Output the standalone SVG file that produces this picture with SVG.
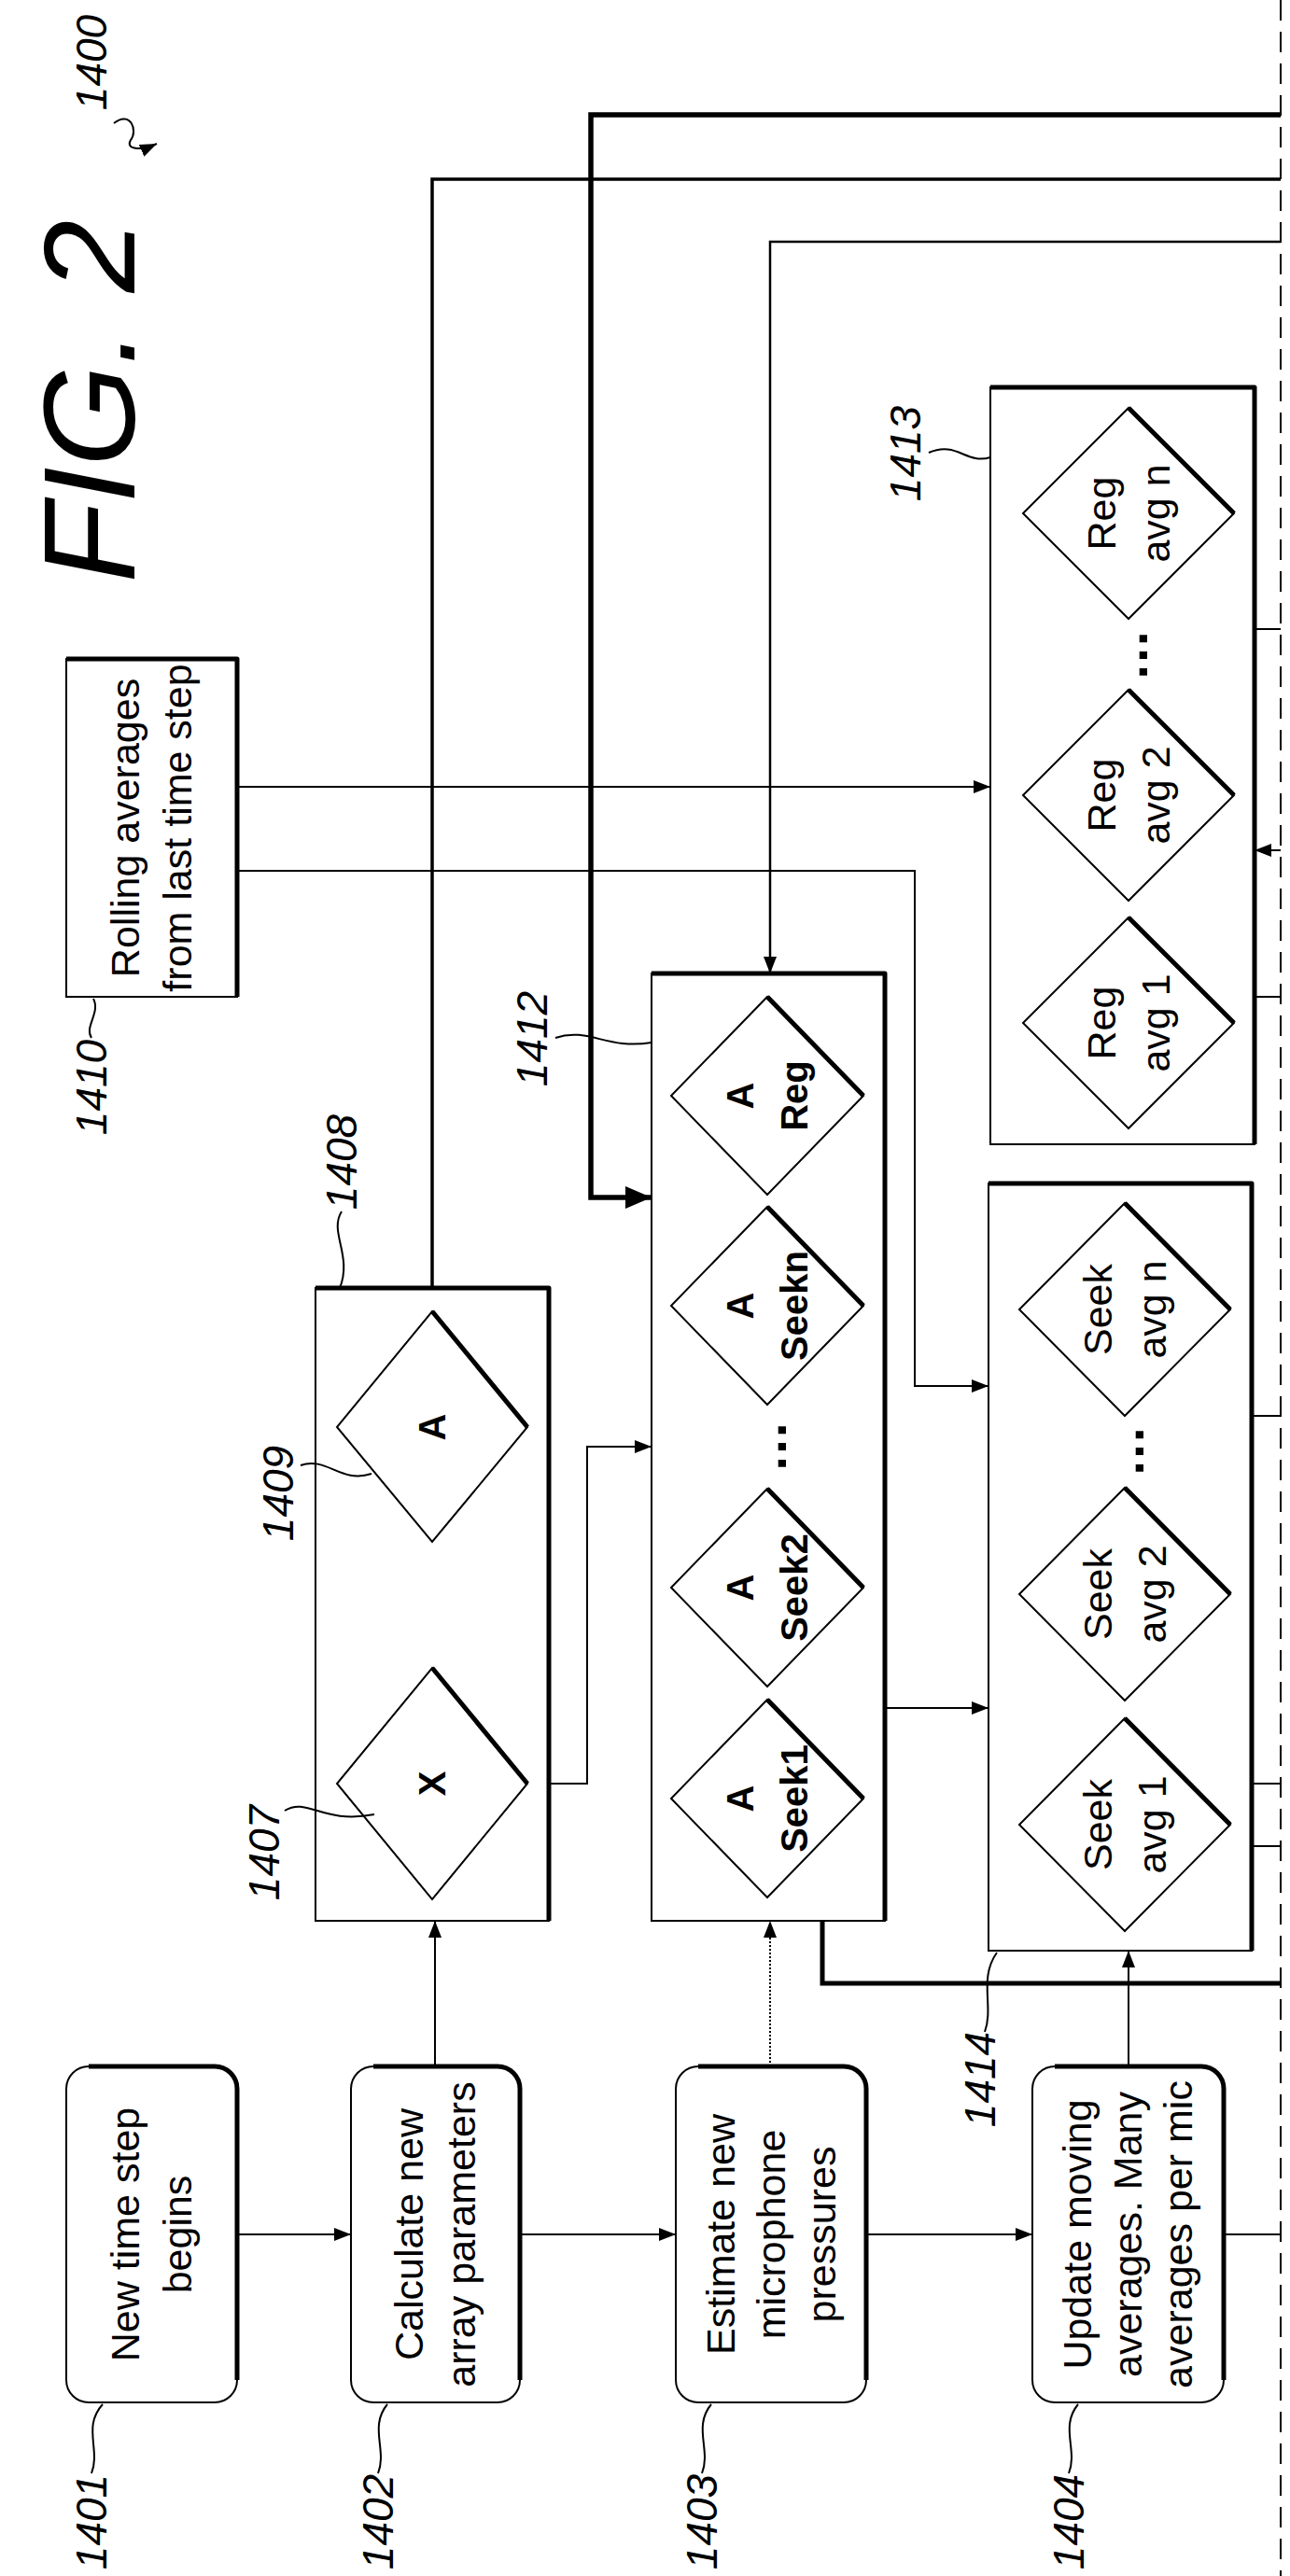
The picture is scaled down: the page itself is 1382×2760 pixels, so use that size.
<svg xmlns="http://www.w3.org/2000/svg" width="1382" height="2760" viewBox="0 0 1382 2760">
<style>
.b{fill:#fff;stroke:#000;stroke-width:2}
.sh{fill:none;stroke:#000;stroke-width:5;stroke-linejoin:round}
.ln{fill:none;stroke:#000;stroke-width:2}
.t{font-family:"Liberation Sans",Arial,sans-serif;font-size:43px;text-anchor:middle;dominant-baseline:central}
.d{font-family:"Liberation Sans",Arial,sans-serif;font-size:40px;text-anchor:middle;dominant-baseline:central;font-weight:bold}
.dots{font-family:"Liberation Sans",Arial,sans-serif;font-size:56px;text-anchor:middle;dominant-baseline:central;font-weight:bold}
.l{font-family:"Liberation Sans",Arial,sans-serif;font-size:46px;font-style:italic;text-anchor:middle;dominant-baseline:central}
</style>
<defs>
<marker id="ar" markerUnits="userSpaceOnUse" markerWidth="20" markerHeight="14" refX="18" refY="7" orient="auto"><path d="M0,0 L18,7 L0,14 Z"/></marker>
<marker id="arb" markerUnits="userSpaceOnUse" markerWidth="30" markerHeight="24" refX="28" refY="12" orient="auto"><path d="M0,0 L28,12 L0,24 Z"/></marker>
</defs>

<text class="l" style="font-size:140px" transform="translate(95,430) rotate(-90)">FIG. 2</text>
<g id="label1400"><text class="l" transform="translate(98,67) rotate(-90)">1400</text>
<path class="ln" d="M122,132 C140,118 148,140 140,150 C134,160 150,162 168,154" marker-end="url(#ar)"/></g>

<g id="connectors">
<line x1="1372" y1="0" x2="1372" y2="2760" stroke="#000" stroke-width="2" stroke-dasharray="22,12"/>
<line class="ln" x1="254" y1="2394" x2="376" y2="2394" marker-end="url(#ar)"/>
<line class="ln" x1="557" y1="2394" x2="724" y2="2394" marker-end="url(#ar)"/>
<line class="ln" x1="928" y1="2394" x2="1106" y2="2394" marker-end="url(#ar)"/>
<line class="ln" x1="1311" y1="2394" x2="1372" y2="2394"/>
<line class="ln" x1="466" y1="2214" x2="466" y2="2058" marker-end="url(#ar)"/>
<line class="ln" x1="825" y1="2214" x2="825" y2="2058" stroke-dasharray="2,2" marker-end="url(#ar)"/>
<line class="ln" x1="1209" y1="2214" x2="1209" y2="2090" marker-end="url(#ar)"/>
<polyline class="ln" style="stroke-width:5" points="881,2058 881,2125 1372,2125"/>
<polyline class="ln" style="stroke-width:3.5" points="463,1405 463,192 1372,192"/>
<polyline class="ln" style="stroke-width:5.5" points="1372,123 633,123 633,1283 698,1283" marker-end="url(#arb)"/>
<polyline class="ln" style="stroke-width:2.5" points="1372,259 825,259 825,1043" marker-end="url(#ar)"/>
<polyline class="ln" points="565,1911 629,1911 629,1550 698,1550" marker-end="url(#ar)"/>
<line class="ln" x1="948" y1="1830" x2="1059" y2="1830" marker-end="url(#ar)"/>
<polyline class="ln" points="254,933 980,933 980,1485 1059,1485" marker-end="url(#ar)"/>
<line class="ln" x1="254" y1="843" x2="1061" y2="843" marker-end="url(#ar)"/>
<line class="ln" x1="1344" y1="674" x2="1372" y2="674"/>
<line class="ln" x1="1344" y1="1068" x2="1372" y2="1068"/>
<line class="ln" x1="1372" y1="911" x2="1344" y2="911" marker-end="url(#ar)"/>
<line class="ln" x1="1341" y1="1517" x2="1372" y2="1517"/>
<line class="ln" x1="1341" y1="1911" x2="1372" y2="1911"/>
<line class="ln" x1="1341" y1="1978" x2="1372" y2="1978"/>
</g>

<g id="n1401"><rect class="b" x="71" y="2214" width="183" height="360" rx="24"/>
<path class="sh" d="M95,2214 H230 A24,24 0 0 1 254,2238 V2550"/>
<text class="t" transform="translate(162,2394) rotate(-90)"><tspan x="0" y="-28">New time step</tspan><tspan x="0" y="28">begins</tspan></text>
<text class="l" transform="translate(98,2702) rotate(-90)">1401</text><path class="ln" d="M98,2650 C108,2625 88,2600 110,2576"/></g>

<g id="n1402"><rect class="b" x="376" y="2214" width="181" height="360" rx="24"/>
<path class="sh" d="M400,2214 H533 A24,24 0 0 1 557,2238 V2550"/>
<text class="t" transform="translate(466,2394) rotate(-90)"><tspan x="0" y="-28">Calculate new</tspan><tspan x="0" y="28">array parameters</tspan></text>
<text class="l" transform="translate(405,2702) rotate(-90)">1402</text><path class="ln" d="M405,2650 C415,2625 395,2600 415,2576"/></g>

<g id="n1403"><rect class="b" x="724" y="2214" width="204" height="360" rx="24"/>
<path class="sh" d="M748,2214 H904 A24,24 0 0 1 928,2238 V2550"/>
<text class="t" transform="translate(826,2394) rotate(-90)"><tspan x="0" y="-54">Estimate new</tspan><tspan x="0" y="0">microphone</tspan><tspan x="0" y="54">pressures</tspan></text>
<text class="l" transform="translate(752,2702) rotate(-90)">1403</text><path class="ln" d="M752,2650 C762,2625 742,2600 762,2576"/></g>

<g id="n1404"><rect class="b" x="1106" y="2214" width="205" height="360" rx="24"/>
<path class="sh" d="M1130,2214 H1287 A24,24 0 0 1 1311,2238 V2550"/>
<text class="t" transform="translate(1208,2394) rotate(-90)"><tspan x="0" y="-54">Update moving</tspan><tspan x="0" y="0">averages. Many</tspan><tspan x="0" y="54">averages per mic</tspan></text>
<text class="l" transform="translate(1145,2702) rotate(-90)">1404</text><path class="ln" d="M1145,2650 C1155,2625 1135,2600 1155,2576"/></g>

<g id="n1410"><rect class="b" x="71" y="706" width="183" height="362"/>
<path class="sh" d="M71,706 H254 V1068"/>
<text class="t" transform="translate(162,887) rotate(-90)"><tspan x="0" y="-28">Rolling averages</tspan><tspan x="0" y="28">from last time step</tspan></text>
<text class="l" transform="translate(98,1165) rotate(-90)">1410</text><path class="ln" d="M98,1112 C90,1100 108,1085 100,1070"/></g>

<g id="n1408"><rect class="b" x="338" y="1380" width="250" height="678"/>
<path class="sh" d="M338,1380 H588 V2058"/>
<path class="b" d="M463,1405 L565,1529 L463,1652 L361,1529 Z"/><path class="sh" d="M463,1405 L565,1529"/>
<text class="d" transform="translate(463,1529) rotate(-90)">A</text>
<path class="b" d="M463,1787 L565,1911 L463,2035 L361,1911 Z"/><path class="sh" d="M463,1787 L565,1911"/>
<text class="d" transform="translate(463,1911) rotate(-90)">X</text>
<text class="l" transform="translate(366,1245) rotate(-90)">1408</text><path class="ln" d="M366,1298 C352,1320 378,1345 364,1380"/>
<text class="l" transform="translate(298,1600) rotate(-90)">1409</text><path class="ln" d="M322,1570 C350,1560 365,1590 398,1579"/>
<text class="l" transform="translate(283,1985) rotate(-90)">1407</text><path class="ln" d="M305,1940 C330,1925 345,1955 401,1944"/></g>

<g id="n1412"><rect class="b" x="698" y="1043" width="250" height="1015"/>
<path class="sh" d="M698,1043 H948 V2058"/>
<path class="b" d="M822,1068 L925,1174 L822,1280 L719,1174 Z"/><path class="sh" d="M822,1068 L925,1174"/>
<text class="d" transform="translate(822,1174) rotate(-90)"><tspan x="0" y="-29">A</tspan><tspan x="0" y="29">Reg</tspan></text>
<path class="b" d="M822,1293 L925,1399 L822,1505 L719,1399 Z"/><path class="sh" d="M822,1293 L925,1399"/>
<text class="d" transform="translate(822,1399) rotate(-90)"><tspan x="0" y="-29">A</tspan><tspan x="0" y="29">Seekn</tspan></text>
<text class="dots" transform="translate(822,1550) rotate(-90)">…</text>
<path class="b" d="M822,1595 L925,1701 L822,1807 L719,1701 Z"/><path class="sh" d="M822,1595 L925,1701"/>
<text class="d" transform="translate(822,1701) rotate(-90)"><tspan x="0" y="-29">A</tspan><tspan x="0" y="29">Seek2</tspan></text>
<path class="b" d="M822,1821 L925,1927 L822,2033 L719,1927 Z"/><path class="sh" d="M822,1821 L925,1927"/>
<text class="d" transform="translate(822,1927) rotate(-90)"><tspan x="0" y="-29">A</tspan><tspan x="0" y="29">Seek1</tspan></text>
<text class="l" transform="translate(570,1113) rotate(-90)">1412</text><path class="ln" d="M595,1112 C630,1100 650,1125 698,1117"/></g>

<g id="n1413"><rect class="b" x="1061" y="415" width="283" height="811"/>
<path class="sh" d="M1061,415 H1344 V1226"/>
<path class="b" d="M1209,437 L1322,550 L1209,663 L1096,550 Z"/><path class="sh" d="M1209,437 L1322,550"/>
<text class="t" transform="translate(1209,550) rotate(-90)"><tspan x="0" y="-29">Reg</tspan><tspan x="0" y="29">avg n</tspan></text>
<text class="dots" transform="translate(1209,702) rotate(-90)">…</text>
<path class="b" d="M1209,739 L1322,852 L1209,965 L1096,852 Z"/><path class="sh" d="M1209,739 L1322,852"/>
<text class="t" transform="translate(1209,852) rotate(-90)"><tspan x="0" y="-29">Reg</tspan><tspan x="0" y="29">avg 2</tspan></text>
<path class="b" d="M1209,983 L1322,1096 L1209,1209 L1096,1096 Z"/><path class="sh" d="M1209,983 L1322,1096"/>
<text class="t" transform="translate(1209,1096) rotate(-90)"><tspan x="0" y="-29">Reg</tspan><tspan x="0" y="29">avg 1</tspan></text>
<text class="l" transform="translate(970,486) rotate(-90)">1413</text><path class="ln" d="M995,485 C1025,472 1035,498 1061,490"/></g>

<g id="n1414"><rect class="b" x="1059" y="1268" width="282" height="822"/>
<path class="sh" d="M1059,1268 H1341 V2090"/>
<path class="b" d="M1205,1289 L1318,1403 L1205,1517 L1092,1403 Z"/><path class="sh" d="M1205,1289 L1318,1403"/>
<text class="t" transform="translate(1205,1403) rotate(-90)"><tspan x="0" y="-29">Seek</tspan><tspan x="0" y="29">avg n</tspan></text>
<text class="dots" transform="translate(1205,1555) rotate(-90)">…</text>
<path class="b" d="M1205,1594 L1318,1708 L1205,1822 L1092,1708 Z"/><path class="sh" d="M1205,1594 L1318,1708"/>
<text class="t" transform="translate(1205,1708) rotate(-90)"><tspan x="0" y="-29">Seek</tspan><tspan x="0" y="29">avg 2</tspan></text>
<path class="b" d="M1205,1841 L1318,1955 L1205,2069 L1092,1955 Z"/><path class="sh" d="M1205,1841 L1318,1955"/>
<text class="t" transform="translate(1205,1955) rotate(-90)"><tspan x="0" y="-29">Seek</tspan><tspan x="0" y="29">avg 1</tspan></text>
<text class="l" transform="translate(1050,2228) rotate(-90)">1414</text><path class="ln" d="M1055,2177 C1065,2150 1048,2120 1068,2092"/></g>
</svg>
